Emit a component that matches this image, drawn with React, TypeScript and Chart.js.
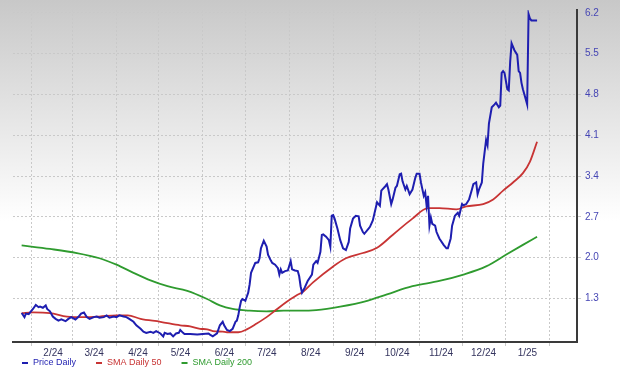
import { useEffect, useRef } from "react";
import { Chart, registerables } from "chart.js";
Chart.register(...registerables);

// x values are calendar days counted from 1 Jan 2024 (day 0)
const monthStartDays = [31, 60, 91, 121, 152, 182, 213, 244, 274, 305, 335, 366, 397];
const monthLabels = ["2/24", "3/24", "4/24", "5/24", "6/24", "7/24", "8/24", "9/24", "10/24", "11/24", "12/24", "1/25", ""];
const yTickValues = [1.3, 2.0, 2.7, 3.4, 4.1, 4.8, 5.5, 6.2];

const priceDays = [
  24, 26, 27, 29, 30, 32, 34, 36, 37, 39, 41, 42, 44, 46, 48, 50, 52, 55, 57, 59, 62, 64, 66, 68, 70, 72, 75, 77, 79, 82,
  84, 86, 89, 91, 93, 96, 98, 100, 103, 105, 108, 110, 112, 115, 117, 119, 122, 124, 125, 127, 129, 131, 133, 135, 136, 138, 139, 143, 148, 152,
  156, 157, 159, 162, 164, 166, 167, 169, 171, 173, 175, 176, 177, 178, 179, 180, 182, 183, 184, 185, 186, 189, 191, 192, 193, 195, 197, 198, 200, 201,
  203, 205, 206, 207, 208, 210, 212, 214, 215, 217, 219, 220, 221, 222, 224, 226, 229, 230, 232, 233, 235, 236, 237, 239, 241, 242, 243, 244, 245, 247,
  249, 251, 253, 255, 256, 258, 260, 262, 263, 265, 266, 269, 270, 272, 275, 277, 278, 281, 282, 283, 285, 286, 288, 289, 291, 292, 293, 295, 296, 298,
  300, 302, 303, 305, 306, 308, 309, 310, 311, 312, 313, 314, 316, 317, 319, 322, 324, 325, 327, 328, 330, 332, 333, 335, 336, 338, 340, 342, 343, 345,
  346, 347, 349, 350, 352, 353, 354, 356, 358, 359, 361, 362, 363, 364, 365, 367, 368, 369, 370, 372, 374, 375, 376, 377, 378, 380, 381, 382, 383, 384,
  386, 388,
];
const priceValues = [
  1.05, 0.98, 1.04, 1.03, 1.06, 1.12, 1.19, 1.15, 1.16, 1.14, 1.18, 1.12, 1.08, 0.99, 0.95, 0.92, 0.94, 0.91, 0.95, 0.98, 0.94, 0.98, 1.04, 1.06, 0.98, 0.95, 0.98, 0.99, 0.97, 0.98,
  1.01, 0.97, 0.99, 0.98, 1.01, 0.99, 0.98, 0.95, 0.9, 0.84, 0.78, 0.73, 0.71, 0.73, 0.71, 0.74, 0.7, 0.65, 0.71, 0.69, 0.7, 0.65, 0.7, 0.71, 0.76, 0.71, 0.69, 0.69, 0.68, 0.69,
  0.7, 0.68, 0.65, 0.7, 0.84, 0.9, 0.84, 0.76, 0.74, 0.78, 0.9, 0.92, 1.01, 1.15, 1.26, 1.29, 1.26, 1.33, 1.4, 1.54, 1.74, 1.91, 1.92, 1.99, 2.16, 2.29, 2.19, 2.05, 1.95, 1.91,
  1.88, 1.82, 1.71, 1.8, 1.74, 1.77, 1.78, 1.94, 1.8, 1.78, 1.77, 1.68, 1.51, 1.4, 1.49, 1.6, 1.71, 1.88, 1.94, 1.91, 2.1, 2.39, 2.4, 2.36, 2.3, 2.19, 2.72, 2.73, 2.67, 2.5,
  2.3, 2.16, 2.13, 2.27, 2.5, 2.67, 2.72, 2.71, 2.55, 2.44, 2.41, 2.5, 2.53, 2.64, 2.95, 2.89, 3.15, 3.23, 3.26, 3.17, 2.92, 3.0, 3.2, 3.23, 3.43, 3.44, 3.31, 3.17, 3.23, 3.09,
  3.17, 3.37, 3.44, 3.44, 3.29, 3.06, 3.12, 2.89, 3.06, 2.55, 2.69, 2.58, 2.55, 2.44, 2.33, 2.22, 2.16, 2.16, 2.33, 2.55, 2.72, 2.77, 2.72, 2.92, 2.9, 2.92, 3.0, 3.17, 3.26, 3.29,
  3.09, 3.17, 3.29, 3.62, 4.02, 3.93, 4.3, 4.58, 4.63, 4.66, 4.58, 4.61, 5.17, 5.2, 5.17, 4.89, 4.87, 5.36, 5.68, 5.56, 5.48, 5.2, 5.17, 5.0, 4.89, 4.72, 4.63, 6.18, 6.1, 6.07,
  6.07, 6.07,
];

const sma50Days = [24, 32, 44, 56, 68, 79, 91, 99, 108, 122, 136, 143, 150, 155, 159, 166, 169, 177, 183, 190, 197, 204, 211, 218, 223, 230, 244, 253, 265, 275, 286, 300, 311, 319, 331, 338, 350, 357, 364, 371, 378, 383, 388];
const sma50Values = [1.05, 1.06, 1.05, 0.99, 0.98, 0.99, 1.01, 1.01, 0.95, 0.9, 0.84, 0.82, 0.78, 0.77, 0.74, 0.73, 0.72, 0.72, 0.77, 0.87, 0.98, 1.11, 1.24, 1.35, 1.42, 1.58, 1.85, 1.99, 2.08, 2.17, 2.39, 2.67, 2.85, 2.85, 2.83, 2.88, 2.92, 3.0, 3.15, 3.29, 3.45, 3.65, 3.99];

const sma200Days = [24, 44, 63, 79, 91, 103, 115, 127, 141, 155, 164, 173, 185, 197, 209, 220, 232, 249, 268, 282, 300, 319, 336, 352, 366, 378, 388];
const sma200Values = [2.21, 2.15, 2.08, 1.99, 1.88, 1.74, 1.61, 1.51, 1.43, 1.29, 1.18, 1.12, 1.09, 1.08, 1.09, 1.09, 1.1, 1.16, 1.26, 1.37, 1.51, 1.6, 1.71, 1.85, 2.05, 2.22, 2.36];

const seriesNames = ["Price Daily", "SMA Daily 50", "SMA Daily 200"];
const seriesColors = ["#1e1eb0", "#c83434", "#2f9b2f"];

const FONT = "'Liberation Sans', Arial, sans-serif";

const toPoints = (xs: number[], ys: number[]) => xs.map((x, i) => ({ x, y: ys[i] }));

const backgroundPlugin = {
  id: "bgGradient",
  beforeDraw(chart: any) {
    const { ctx, width, height } = chart;
    const g = ctx.createLinearGradient(0, 0, 0, height);
    g.addColorStop(0, "#c8c8c8");
    g.addColorStop(0.6, "#ffffff");
    g.addColorStop(1, "#ffffff");
    ctx.save();
    ctx.fillStyle = g;
    ctx.fillRect(0, 0, width, height);
    ctx.restore();
  },
};

const legendPlugin = {
  id: "customLegend",
  afterDraw(chart: any) {
    const { ctx } = chart;
    const y = 363;
    let x = 22;
    ctx.save();
    ctx.font = `9px ${FONT}`;
    ctx.textBaseline = "middle";
    seriesNames.forEach((name, i) => {
      ctx.fillStyle = seriesColors[i];
      ctx.fillRect(x, y - 1, 6, 2);
      ctx.fillText(name, x + 11, y);
      x += 11 + ctx.measureText(name).width + 20;
    });
    ctx.restore();
  },
};

export default function App() {
  const canvasRef = useRef<HTMLCanvasElement | null>(null);

  useEffect(() => {
    document.body.style.margin = "0";
    const canvas = canvasRef.current;
    if (!canvas) return;
    const chart = new Chart(canvas, {
      type: "line",
      data: {
        datasets: [
          {
            label: seriesNames[0],
            data: toPoints(priceDays, priceValues),
            borderColor: seriesColors[0],
            borderWidth: 2,
            pointRadius: 0,
            tension: 0,
          },
          {
            label: seriesNames[1],
            data: toPoints(sma50Days, sma50Values),
            borderColor: seriesColors[1],
            borderWidth: 1.8,
            pointRadius: 0,
            cubicInterpolationMode: "monotone",
          },
          {
            label: seriesNames[2],
            data: toPoints(sma200Days, sma200Values),
            borderColor: seriesColors[2],
            borderWidth: 1.8,
            pointRadius: 0,
            cubicInterpolationMode: "monotone",
          },
        ],
      },
      options: {
        animation: false,
        responsive: false,
        devicePixelRatio: 1,
        layout: { padding: { left: 13, top: 4, right: 0, bottom: 0 } },
        plugins: { legend: { display: false }, tooltip: { enabled: false } },
        scales: {
          x: {
            type: "linear",
            position: "bottom",
            min: 17.9,
            max: 416.2,
            afterBuildTicks: (s: any) => {
              s.ticks = monthStartDays.map((v) => ({ value: v }));
            },
            afterFit: (s: any) => {
              s.height = 26;
            },
            ticks: {
              autoSkip: false,
              maxRotation: 0,
              minRotation: 0,
              labelOffset: 21.5,
              padding: 1,
              color: "#34345e",
              font: { family: FONT, size: 10 },
              callback: (_v: any, i: number) => monthLabels[i],
            },
            grid: { color: "#c9c9c9", lineWidth: 1, tickLength: 4 },
            border: { display: true, color: "#3a3a3a", width: 2, dash: [2, 2] },
          },
          y: {
            type: "linear",
            position: "right",
            min: 0.553,
            max: 6.25,
            afterBuildTicks: (s: any) => {
              s.ticks = yTickValues.map((v) => ({ value: v }));
            },
            afterFit: (s: any) => {
              s.width = 43;
            },
            ticks: {
              padding: 4,
              color: "#4646b4",
              font: { family: FONT, size: 10 },
              callback: (v: any) => Number(v).toFixed(1),
            },
            grid: { color: "#c9c9c9", lineWidth: 1, tickLength: 4 },
            border: { display: true, color: "#3a3a3a", width: 2, dash: [2, 2] },
          },
        },
      },
      plugins: [backgroundPlugin, legendPlugin],
    } as any);
    return () => chart.destroy();
  }, []);

  return (
    <div style={{ width: 620, height: 368 }}>
      <canvas ref={canvasRef} width={620} height={368} style={{ width: 620, height: 368, display: "block" }} />
    </div>
  );
}
